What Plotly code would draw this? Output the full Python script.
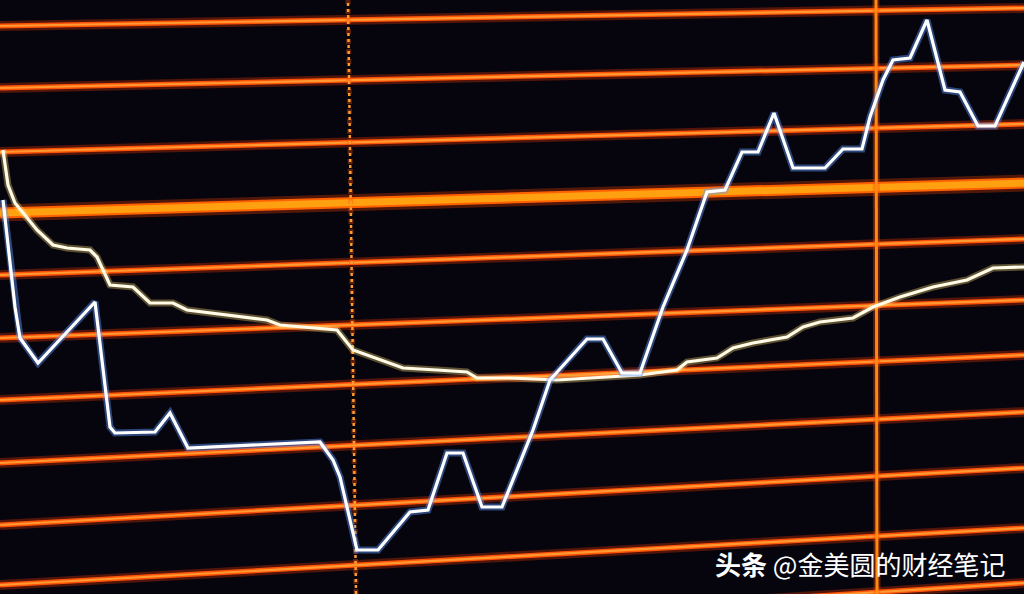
import plotly.graph_objects as go

W, H = 1024, 594

# Horizontal screen grid levels (value at left edge, value at right edge) — photo in perspective
grid_left = [568, 506, 442, 381, 319, 256, 194, 131, 69, 9, -53]
grid_right = [586, 529, 470, 411, 355, 294, 239, 182, 126, 66, 11]
thick_index = 3

# Vertical markers (time positions at bottom and top of screen)
dotted_bottom, dotted_top = 356, 348
solid_bottom, solid_top = 877, 876

# Price series (time, value)
price_t = [3, 15, 20, 38, 95, 110, 115, 155, 170, 188, 320, 333, 340, 357, 378, 410, 428,
           447, 463, 482, 502, 533, 550, 587, 603, 622, 640, 663, 687, 707, 725, 742, 758,
           774, 793, 825, 843, 862, 870, 877, 883, 893, 910, 927, 945, 960, 978, 995, 1024]
price_y = [200, 307, 338, 363, 302, 427, 433, 432, 413, 448, 442, 460, 477, 550, 550, 512, 510,
           453, 453, 507, 507, 430, 380, 339, 339, 373, 373, 307, 250, 192, 190, 152, 152,
           113, 168, 168, 149, 149, 117, 97, 80, 60, 58, 20, 90, 92, 126, 126, 62]
price_v = [594 - y for y in price_y]

# Average series (time, value)
avg_t = [3, 8, 15, 37, 53, 67, 90, 97, 110, 133, 150, 173, 187, 230, 267, 280, 313, 337, 353,
         367, 390, 403, 437, 467, 477, 510, 557, 640, 677, 687, 717, 733, 753, 787, 803, 820,
         853, 873, 900, 933, 967, 993, 1024]
avg_y = [150, 185, 203, 230, 245, 248, 250, 257, 285, 287, 303, 303, 310, 315, 320, 325, 328,
         330, 350, 355, 363, 368, 370, 372, 378, 378, 380, 375, 370, 362, 358, 348, 343, 337,
         327, 322, 318, 307, 297, 287, 280, 268, 267]
avg_v = [594 - y for y in avg_y]

watermark = "<b>头条</b> @金美圆的财经笔记"

fig = go.Figure()

def add_line(xs, ys, color, width, dash=None, shape="linear"):
    fig.add_trace(go.Scatter(x=xs, y=ys, mode="lines", hoverinfo="skip", showlegend=False,
                             line=dict(color=color, width=width, dash=dash, shape=shape)))

# grid lines with glow
for i, (l, r) in enumerate(zip(grid_left, grid_right)):
    xs, ys = [0, W], [l, r]
    if i == thick_index:
        add_line(xs, ys, "rgba(255,70,0,0.30)", 17)
        add_line(xs, ys, "#ff6000", 11)
        add_line(xs, ys, "#ffa010", 7)
    else:
        add_line(xs, ys, "rgba(255,60,0,0.30)", 10)
        add_line(xs, ys, "#ff5208", 5)
        add_line(xs, ys, "#ff9a30", 2.2)

# vertical markers
add_line([dotted_bottom, dotted_top], [0, H], "rgba(255,80,0,0.35)", 5, dash="dot")
add_line([dotted_bottom, dotted_top], [0, H], "#ff9a30", 2.5, dash="dot")
add_line([solid_bottom, solid_top], [0, H], "rgba(255,70,0,0.35)", 7)
add_line([solid_bottom, solid_top], [0, H], "#ff8a10", 3)

# average line with warm glow
add_line(avg_t, avg_v, "rgba(255,220,120,0.35)", 7)
add_line(avg_t, avg_v, "#fffbe6", 3.2)

# price line with cool glow
add_line(price_t, price_v, "rgba(90,150,255,0.45)", 7)
add_line(price_t, price_v, "#ffffff", 3.2)

fig.add_annotation(x=713, y=594 - 563, xref="x", yref="y", xanchor="left", yanchor="middle",
                   text=watermark, showarrow=False,
                   font=dict(family="Noto Sans CJK SC", size=26, color="#ffffff"))

fig.update_layout(
    width=W, height=H, margin=dict(l=0, r=0, t=0, b=0),
    paper_bgcolor="#06050e", plot_bgcolor="#06050e",
    xaxis=dict(range=[0, W], visible=False, fixedrange=True),
    yaxis=dict(range=[0, H], visible=False, fixedrange=True),
    showlegend=False,
)

fig.write_html("out.html", config={"displayModeBar": False},
               post_script="document.body.style.margin='0';document.body.style.background='#06050e';")
